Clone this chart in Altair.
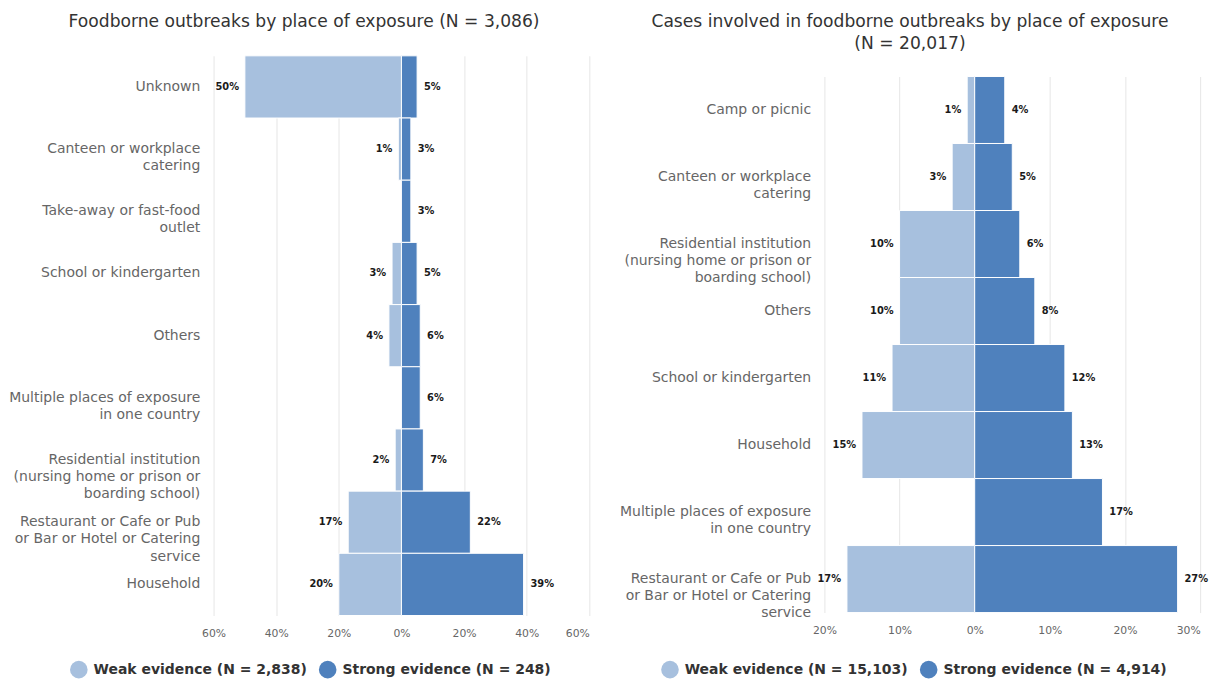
import altair as alt
import pandas as pd

FONT = "DejaVu Sans"
WEAK_COLOR = "#a7c0de"
STRONG_COLOR = "#4f81bd"

# ---- Left panel data: outbreaks ----
left_places = [
    "Unknown",
    "Canteen or workplace\ncatering",
    "Take-away or fast-food\noutlet",
    "School or kindergarten",
    "Others",
    "Multiple places of exposure\nin one country",
    "Residential institution\n(nursing home or prison or\nboarding school)",
    "Restaurant or Cafe or Pub\nor Bar or Hotel or Catering\nservice",
    "Household",
]
left_weak = [50, 1, 0, 3, 4, 0, 2, 17, 20]
left_strong = [5, 3, 3, 5, 6, 6, 7, 22, 39]
left_title = ["Foodborne outbreaks by place of exposure (N = 3,086)"]
left_weak_name = "Weak evidence (N = 2,838)"
left_strong_name = "Strong evidence (N = 248)"
left_ticks = [-60, -40, -20, 0, 20, 40, 60]

# ---- Right panel data: cases ----
right_places = [
    "Camp or picnic",
    "Canteen or workplace\ncatering",
    "Residential institution\n(nursing home or prison or\nboarding school)",
    "Others",
    "School or kindergarten",
    "Household",
    "Multiple places of exposure\nin one country",
    "Restaurant or Cafe or Pub\nor Bar or Hotel or Catering\nservice",
]
right_weak = [1, 3, 10, 10, 11, 15, 0, 17]
right_strong = [4, 5, 6, 8, 12, 13, 17, 27]
right_title = ["Cases involved in foodborne outbreaks by place of exposure", "(N = 20,017)"]
right_weak_name = "Weak evidence (N = 15,103)"
right_strong_name = "Strong evidence (N = 4,914)"
right_ticks = [-20, -10, 0, 10, 20, 30]


def make_df(places, weak, strong, weak_name, strong_name):
    rows = []
    for p, w, s in zip(places, weak, strong):
        if w > 0:
            rows.append({"place": p, "ev": weak_name, "val": -w, "lab": f"{w}%", "side": "weak"})
        rows.append({"place": p, "ev": strong_name, "val": s, "lab": f"{s}%", "side": "strong"})
    return pd.DataFrame(rows)


def panel(places, weak, strong, weak_name, strong_name, title, ticks, width, height,
          legend_x, legend_y, header_h, title_x):
    df = make_df(places, weak, strong, weak_name, strong_name)
    xscale = alt.Scale(domain=[ticks[0], ticks[-1]], nice=False, zero=True)
    y = alt.Y("place:N", sort=places, title=None,
              scale=alt.Scale(paddingInner=0, paddingOuter=0),
              axis=alt.Axis(labelExpr="split(datum.label, '\\n')", labelFont=FONT,
                            labelFontSize=14.2, labelColor="#666666", labelLimit=400,
                            labelPadding=14, labelLineHeight=17.5, domain=False, ticks=False,
                            grid=False))
    x = alt.X("val:Q", scale=xscale, title=None,
              axis=alt.Axis(values=ticks, labelExpr="abs(datum.value) + '%'",
                            labelFont=FONT, labelFontSize=11, labelColor="#666666",
                            labelPadding=12, labelFlush=False,
                            labelAlign={"expr": f"datum.value == {ticks[-1]} ? 'right' : 'center'"},
                            domain=False, ticks=False,
                            grid=True, gridColor="#e6e6e6", gridWidth=1))
    color = alt.Color("ev:N",
                      scale=alt.Scale(domain=[weak_name, strong_name],
                                      range=[WEAK_COLOR, STRONG_COLOR]),
                      legend=alt.Legend(title=None, orient="none", direction="horizontal",
                                        legendX=legend_x, legendY=legend_y,
                                        symbolType="circle", symbolSize=320,
                                        symbolStrokeWidth=0, labelFont=FONT,
                                        labelFontSize=14.2, labelFontWeight="bold",
                                        labelColor="#333333", columnPadding=12,
                                        labelOffset=6, labelLimit=400))
    bars = alt.Chart(df).mark_bar(stroke="white", strokeWidth=1).encode(
        x=x, y=y, color=color)
    txt_weak = alt.Chart(df).transform_filter("datum.side == 'weak'").mark_text(
        align="right", baseline="middle", dx=-6, font=FONT, fontSize=10,
        fontWeight="bold", color="#1a1a1a").encode(
        x="val:Q", y=alt.Y("place:N", sort=places), text="lab:N")
    txt_strong = alt.Chart(df).transform_filter("datum.side == 'strong'").mark_text(
        align="left", baseline="middle", dx=7, font=FONT, fontSize=10,
        fontWeight="bold", color="#1a1a1a").encode(
        x="val:Q", y=alt.Y("place:N", sort=places), text="lab:N")
    body = alt.layer(bars, txt_weak, txt_strong).properties(width=width, height=height)

    # title drawn as a header chart so the two panels' titles line up at the top
    head_df = pd.DataFrame({"t": ["\n".join(title)]})
    header = alt.Chart(head_df).mark_text(
        align="center", baseline="top", font=FONT, fontSize=17.4, color="#333333",
        lineBreak="\n", lineHeight=22).encode(
        text="t:N", x=alt.value(title_x), y=alt.value(0)
    ).properties(width=width, height=header_h)
    return alt.vconcat(header, body, spacing=0)


left = panel(left_places, left_weak, left_strong, left_weak_name, left_strong_name,
             left_title, left_ticks, 382, 569, -146, 658, 42, 92)
right = panel(right_places, right_weak, right_strong, right_weak_name, right_strong_name,
              right_title, right_ticks, 382, 545, -166, 658, 63, 87)

chart = alt.hconcat(left, right, spacing=30).resolve_scale(
    color="independent", x="independent", y="independent"
).properties(padding={"left": 0, "top": 0, "right": 0, "bottom": 0}
).configure_view(stroke=None)

chart.save("out.html", embed_options={"renderer": "svg", "actions": False})
